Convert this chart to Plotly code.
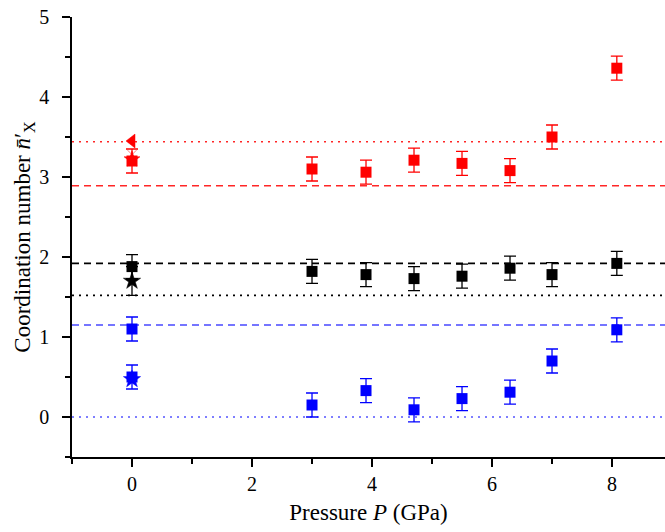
import plotly.graph_objects as go

# Pressure points (GPa)
pressure = [0, 3.0, 3.9, 4.7, 5.5, 6.3, 7.0, 8.08]

# Coordination numbers per series
red_vals = [3.20, 3.10, 3.06, 3.21, 3.17, 3.08, 3.50, 4.36]
black_vals = [1.88, 1.82, 1.78, 1.73, 1.76, 1.86, 1.78, 1.92]
blue_vals = [1.10, 0.15, 0.33, 0.09, 0.23, 0.31, 0.70, 1.09]
err = 0.15

# Extra reference markers at ambient pressure
blue_low = 0.50
red_tri, red_x, red_star = 3.45, 3.28, 3.22
black_star = 1.70
blue_star = 0.47

# Horizontal reference levels
red_dot, red_dash = 3.44, 2.89
black_dash, black_dot = 1.92, 1.52
blue_dash, blue_dot = 1.15, 0.0

x_range = [-1, 8.883]

RED = "#ff0000"
BLACK = "#000000"
BLUE = "#0000ff"

DASH = "7px,5px"
DOT = "2px,5px"

fig = go.Figure()

def hline(y, color, dash):
    fig.add_trace(go.Scatter(
        x=x_range, y=[y, y], mode="lines",
        line=dict(color=color, dash=dash, width=1.6),
        hoverinfo="skip", showlegend=False))

hline(red_dot, "rgba(255,0,0,0.85)", DOT)
hline(red_dash, "rgba(255,0,0,0.85)", DASH)
hline(black_dash, BLACK, DASH)
hline(black_dot, BLACK, DOT)
hline(blue_dash, "rgba(40,40,255,0.85)", DASH)
hline(blue_dot, "rgba(40,40,255,0.8)", DOT)

def squares(xs, ys, color):
    fig.add_trace(go.Scatter(
        x=xs, y=ys, mode="markers",
        marker=dict(symbol="square", size=11, color=color),
        error_y=dict(type="constant", value=err, color=color,
                     thickness=1.3, width=6),
        showlegend=False))

squares(pressure, red_vals, RED)
squares(pressure, black_vals, BLACK)
squares(pressure, blue_vals, BLUE)
squares([0], [blue_low], BLUE)

def marker(y, symbol, color, size, e=None):
    kw = {}
    if e is not None:
        kw["error_y"] = dict(type="constant", value=e, color=color,
                             thickness=1.3, width=6)
    fig.add_trace(go.Scatter(
        x=[0], y=[y], mode="markers",
        marker=dict(symbol=symbol, size=size, color=color,
                    line=dict(width=0.5, color=color)),
        showlegend=False, **kw))

marker(red_tri, "triangle-left", RED, 12)
marker(red_x, "x-thin", RED, 9)
marker(red_star, "star", RED, 12)
marker(black_star, "star", BLACK, 13, 0.18)
marker(blue_star, "star", BLUE, 13)

font = "Liberation Serif, Times New Roman, serif"

fig.update_layout(
    width=665, height=532,
    margin=dict(l=72, r=0, t=17, b=75),
    plot_bgcolor="white", paper_bgcolor="white",
    font=dict(family=font, size=20, color="black"),
    xaxis=dict(
        range=x_range, showgrid=False, zeroline=False,
        showline=True, linecolor="black", linewidth=1.6,
        ticks="outside", ticklen=8, tickwidth=1.6, tickcolor="black",
        tick0=0, dtick=2,
        minor=dict(ticks="outside", ticklen=5, tickwidth=1.6,
                   tickcolor="black", dtick=1, tick0=0),
        title=dict(text="Pressure <i>P</i> (GPa)", font=dict(size=23),
                   standoff=10),
    ),
    yaxis=dict(
        range=[-0.5, 5], showgrid=False, zeroline=False,
        showline=True, linecolor="black", linewidth=1.6,
        ticks="outside", ticklen=8, tickwidth=1.6, tickcolor="black",
        tick0=0, dtick=1, ticklabelstandoff=9,
        minor=dict(ticks="outside", ticklen=5, tickwidth=1.6,
                   tickcolor="black", dtick=0.5, tick0=0),
        title=dict(text="Coordination number <i>n\u0304</i>\u2032<sub>X</sub>",
                   font=dict(size=23), standoff=2),
    ),
)

fig.write_html("out.html")
